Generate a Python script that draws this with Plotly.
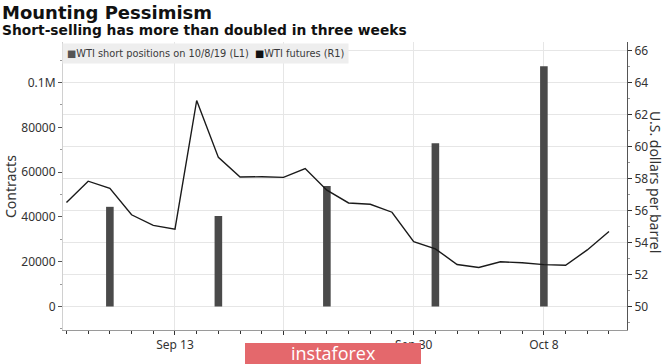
import plotly.graph_objects as go

# ---- data ----
dates = ["Sep 6", "Sep 9", "Sep 10", "Sep 11", "Sep 12", "Sep 13", "Sep 16", "Sep 17",
         "Sep 18", "Sep 19", "Sep 20", "Sep 23", "Sep 24", "Sep 25", "Sep 26", "Sep 27",
         "Sep 30", "Oct 1", "Oct 2", "Oct 3", "Oct 4", "Oct 7", "Oct 8", "Oct 9",
         "Oct 10", "Oct 11"]
wti_futures = [56.52, 57.85, 57.40, 55.75, 55.09, 54.85, 62.90, 59.34, 58.11, 58.13,
               58.09, 58.64, 57.29, 56.49, 56.41, 55.91, 54.07, 53.62, 52.64, 52.45,
               52.81, 52.75, 52.63, 52.59, 53.55, 54.70]
short_dates = ["Sep 10", "Sep 17", "Sep 24", "Oct 1", "Oct 8"]
short_positions = [44500, 40400, 53800, 72900, 107200]
tick_dates = ["Sep 13", "Sep 20", "Sep 30", "Oct 8"]
tick_labels = ["Sep 13", "", "Sep 30", "Oct 8"]
left_ticks = [0, 20000, 40000, 60000, 80000, 100000]
left_labels = ["0", "20000", "40000", "60000", "80000", "0.1M"]

x_line = list(range(len(dates)))
x_bars = [dates.index(d) for d in short_dates]
x_ticks = [dates.index(d) for d in tick_dates]

W, H = 665, 364
L, R, T, B = 63, 38, 42, 34
pw = W - L - R
ph = H - T - B


def px_x(px):
    return (px - L) / pw


def px_y(py):
    return 1 - (py - T) / ph


fig = go.Figure()
fig.add_trace(go.Bar(x=x_bars, y=short_positions, width=0.35, marker_color="#4a4a4a",
                     marker_line_width=0, yaxis="y", name="WTI short positions on 10/8/19 (L1)"))
fig.add_trace(go.Scatter(x=x_line, y=wti_futures, mode="lines", yaxis="y2",
                         line=dict(color="#1a1a1a", width=1.4), name="WTI futures (R1)"))

tickfont = dict(family="Noto Sans", size=12, color="#333333")

fig.update_layout(
    width=W, height=H, margin=dict(l=L, r=R, t=T, b=B, autoexpand=False),
    paper_bgcolor="white", plot_bgcolor="white", showlegend=False,
    xaxis=dict(range=[-0.16, 25.83], tickvals=x_ticks, ticktext=tick_labels, automargin=False,
               showgrid=True, gridcolor="#e6e6e6", gridwidth=1,
               ticks="outside", ticklen=4, tickcolor="#333", tickfont=tickfont,
               showline=True, linecolor="#9a9a9a", linewidth=1, zeroline=False,
               minor=dict(dtick=1, tick0=0, ticks="outside", ticklen=3, tickcolor="#333", showgrid=False)),
    yaxis=dict(range=[-10490, 118080], tickvals=left_ticks, ticktext=left_labels, automargin=False,
               showgrid=False, zeroline=False, ticks="outside", ticklen=4, tickcolor="#555",
               tickfont=tickfont, showline=True, linecolor="#d0d0d0", linewidth=1,
               minor=dict(dtick=10000, tick0=0, ticks="outside", ticklen=2, tickcolor="#999", showgrid=False)),
    yaxis2=dict(range=[48.54, 66.56], dtick=2, tick0=50, overlaying="y", side="right", automargin=False,
                showgrid=True, gridcolor="#e6e6e6", gridwidth=1, zeroline=False,
                ticks="outside", ticklen=4, tickcolor="#333", tickfont=tickfont,
                showline=True, linecolor="#555", linewidth=1,
                minor=dict(dtick=1, tick0=49, ticks="outside", ticklen=2, tickcolor="#999", showgrid=False)),
    annotations=[
        dict(text="<b>Mounting Pessimism</b>", xref="paper", yref="paper",
             x=px_x(0), y=px_y(0), xanchor="left", yanchor="top",
             showarrow=False, font=dict(family="DejaVu Sans", size=18, color="#111")),
        dict(text="<b>Short-selling has more than doubled in three weeks</b>", xref="paper", yref="paper",
             x=px_x(0), y=px_y(20), xanchor="left", yanchor="top",
             showarrow=False, font=dict(family="DejaVu Sans", size=13.8, color="#111")),
        dict(text="Contracts", xref="paper", yref="paper", textangle=-90,
             x=px_x(10), y=px_y(187), xanchor="center", yanchor="middle",
             showarrow=False, font=dict(family="Noto Sans", size=14, color="#333")),
        dict(text="U.S. dollars per barrel", xref="paper", yref="paper", textangle=90,
             x=px_x(656), y=px_y(182), xanchor="center", yanchor="middle",
             showarrow=False, font=dict(family="Noto Sans", size=14, color="#333")),
        dict(text="<span style='color:#555555'>■</span>WTI short positions on 10/8/19 (L1)  "
                  "<span style='color:#111111'>■</span>WTI futures (R1)",
             xref="paper", yref="paper", x=px_x(62), y=px_y(43), xanchor="left", yanchor="top",
             showarrow=False, bgcolor="#eeeeee", borderpad=4,
             font=dict(family="DejaVu Sans", size=9.8, color="#3a3a3a")),
        dict(text="instaforex", xref="paper", yref="paper",
             x=px_x(333), y=px_y(353), xanchor="center", yanchor="middle",
             showarrow=False, font=dict(family="Open Sans", size=18, color="white")),
    ],
    shapes=[
        dict(type="rect", xref="paper", yref="paper", layer="above",
             x0=px_x(245), x1=px_x(421), y0=px_y(370), y1=px_y(343),
             fillcolor="#e4686c", line=dict(width=0)),
    ],
)

fig.write_html("out.html", config={"displayModeBar": False},
               post_script="document.body.style.margin='0';document.body.style.overflow='hidden';")
